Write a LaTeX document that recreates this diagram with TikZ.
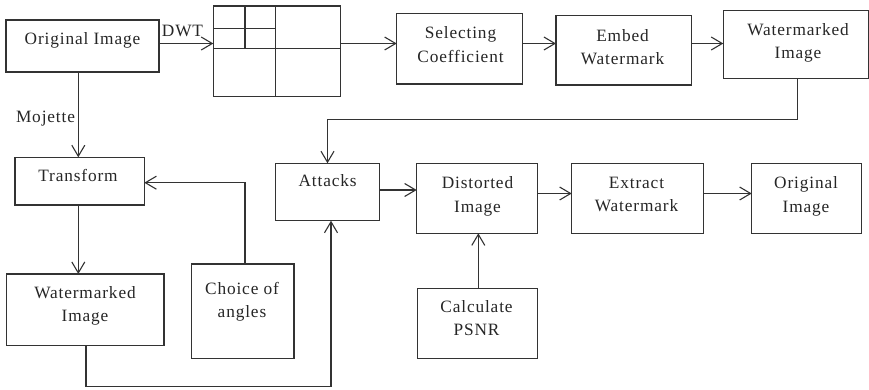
\documentclass[tikz,border=0pt]{standalone}
\usepackage{fontspec}
\setmainfont{Liberation Serif}[LetterSpace=5]
\usetikzlibrary{arrows.meta}
\begin{document}
\begin{tikzpicture}[x=1pt,y=-1pt,
  stroke/.style={draw=black!80, line width=1.1pt},
  box/.style={stroke, rectangle, inner sep=0pt, outer sep=0pt},
  lbl/.style={inner sep=0pt, outer sep=0pt, align=center, text=black!85,
              font=\fontsize{17.3}{23.3}\selectfont},
  flow/.style={stroke, -{Straight Barb[length=11pt,width=13pt]}},
  wire/.style={stroke},
]
\fill[white] (0,0) rectangle (869,389);
\useasboundingbox (0,0) rectangle (869,389);

% ---- boxes ----
\node[box, minimum width=153pt,   minimum height=52pt]   (orig)   at (82.5,46)     {};
\node[box, minimum width=127.4pt, minimum height=90.7pt] (dwt)    at (277,51.35)   {};
\node[box, minimum width=125.6pt, minimum height=70.7pt] (sel)    at (459.5,48.65) {};
\node[box, minimum width=135.7pt, minimum height=69.3pt] (emb)    at (623.85,50.35){};
\node[box, minimum width=145.2pt, minimum height=68pt]   (wm1)    at (795.9,44.5)  {};
\node[box, minimum width=129.3pt, minimum height=47.7pt] (trans)  at (79.65,181.15){};
\node[box, minimum width=157.3pt, minimum height=71.5pt] (wm2)    at (85.35,309.75){};
\node[box, minimum width=102.3pt, minimum height=94.3pt] (choice) at (242.85,311.15){};
\node[box, minimum width=103.6pt, minimum height=57.4pt] (att)    at (327.5,192)   {};
\node[box, minimum width=121pt,   minimum height=70pt]   (dist)   at (477.2,198.3) {};
\node[box, minimum width=131.6pt, minimum height=70pt]   (ext)    at (637.5,198.3) {};
\node[box, minimum width=110pt,   minimum height=70pt]   (orig2)  at (806.7,198.3) {};
\node[box, minimum width=120.4pt, minimum height=70pt]   (psnr)   at (477.5,323.3) {};

% ---- sub-band partition of the DWT block ----
\draw[wire] (245,6) -- (245,48.3);
\draw[wire] (275.3,6) -- (275.3,96.7);
\draw[wire] (213.3,28.3) -- (275.3,28.3);
\draw[wire] (213.3,48.3) -- (340.7,48.3);

% ---- texts ----
\node[lbl] (orig-t)   at (82.5,40.5)   {Original Image};
\node[lbl] (sel-t)    at (460.5,44.7)  {Selecting\\Coefficient};
\node[lbl] (emb-t)    at (622.5,46.85) {Embed\\Watermark};
\node[lbl] (wm1-t)    at (798,43.05)   {Watermarked\\Image};
\node[lbl] (trans-t)  at (78,175.9)    {Transform};
\node[lbl] (wm2-t)    at (85,306)      {Watermarked\\Image};
\node[lbl] (choice-t) at (242,301.55)  {Choice of\\angles};
\node[lbl] (att-t)    at (327.6,180.9) {Attacks};
\node[lbl] (dist-t)   at (477.5,196.35){Distorted\\Image};
\node[lbl] (ext-t)    at (636.5,194.7) {Extract\\Watermark};
\node[lbl] (orig2-t)  at (806,196.35)  {Original\\Image};
\node[lbl] (psnr-t)   at (476.5,317.85){Calculate\\PSNR};
\node[lbl] (dwt-l)    at (182.5,31)    {DWT};
\node[lbl, anchor=east] (moj-l) at (75,118.9) {Mojette};

% ---- connectors ----
\coordinate (rowA)  at (0,43.5);
\coordinate (rowB)  at (0,190);
\coordinate (rowC)  at (0,193.5);
\coordinate (colM)  at (78.3,0);
\coordinate (colP)  at (478.3,0);
\coordinate (loopA) at (797.7,119.3);
\coordinate (angA)  at (245,182.7);
\coordinate (loopB) at (86,386.7);
\coordinate (loopC) at (331,386.7);

\draw[flow] (orig.east |- rowA) -- (dwt.west |- rowA);
\draw[flow] (dwt.east |- rowA)  -- (sel.west |- rowA);
\draw[flow] (sel.east |- rowA)  -- (emb.west |- rowA);
\draw[flow] (emb.east |- rowA)  -- (wm1.west |- rowA);
\draw[flow] (wm1.south -| loopA) -- (loopA) -| (att.north);

\draw[flow] (orig.south -| colM)  -- (trans.north -| colM);
\draw[flow] (trans.south -| colM) -- (wm2.north -| colM);
\draw[flow] (choice.north -| angA) -- (angA) -- (trans.east |- angA);
\draw[flow] (wm2.south -| loopB) -- (loopB) -- (loopC) -- (att.south -| loopC);

\draw[flow] (att.east |- rowB)  -- (dist.west |- rowB);
\draw[flow] (dist.east |- rowC) -- (ext.west |- rowC);
\draw[flow] (ext.east |- rowC)  -- (orig2.west |- rowC);
\draw[flow] (psnr.north -| colP) -- (dist.south -| colP);
\end{tikzpicture}
\end{document}
